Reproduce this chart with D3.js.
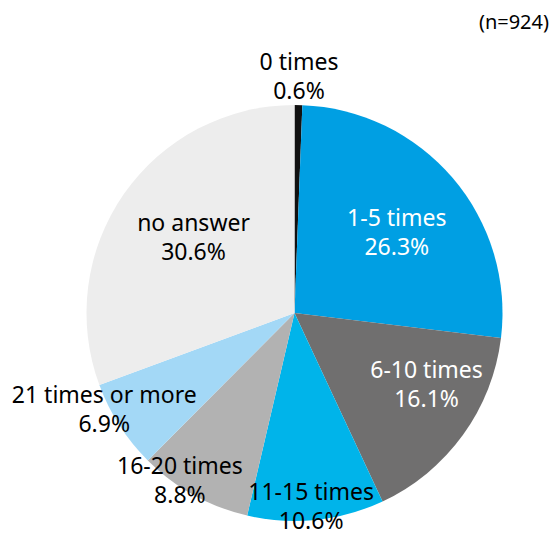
<!DOCTYPE html>
<html>
<head>
<meta charset="utf-8">
<script src="https://cdn.jsdelivr.net/npm/d3@7"></script>
<style>
  html, body { margin: 0; padding: 0; background: #fff; }
  svg { display: block; font-family: "Noto Sans", "Open Sans", sans-serif; }
</style>
</head>
<body>
<svg id="chart" width="556" height="535"></svg>
<script>
// Survey answers, share of respondents (%)
const categories = ["0 times", "1-5 times", "6-10 times", "11-15 times", "16-20 times", "21 times or more", "no answer"];
const shares = [0.6, 26.3, 16.1, 10.6, 8.8, 6.9, 30.6];
const sampleNote = "(n=924)";

// Slice fills and label styling
const fills = ["#111111", "#009fe3", "#706f6f", "#00b4ea", "#b2b2b2", "#a3d8f6", "#ededed"];
const textFills = ["#000", "#fff", "#fff", "#000", "#000", "#000", "#000"];
// Label placement: radius as a fraction of the pie radius, plus an angular nudge in degrees
const labelRadius = [1.144, 0.63, 0.72, 0.93, 0.97, 1.024, 0.61];
const labelNudge = [0, 1.8, -7.8, 1, 5.6, 6, 2.4];

const width = 556, height = 535;
const cx = 294.5, cy = 313, radius = 208;

const svg = d3.select("#chart");
const g = svg.append("g").attr("transform", `translate(${cx},${cy})`);

const rows = categories.map((c, i) => ({ category: c, value: shares[i], i }));

const pie = d3.pie().value(d => d.value).sort(null);
const arc = d3.arc().innerRadius(0).outerRadius(radius);
const arcs = pie(rows);

g.selectAll("path.slice")
  .data(arcs)
  .join("path")
  .attr("class", "slice")
  .attr("d", arc)
  .attr("fill", d => fills[d.data.i]);

const fmt = v => v.toFixed(1) + "%";

const labels = g.selectAll("g.label")
  .data(arcs)
  .join("g")
  .attr("class", "label")
  .attr("transform", d => {
    const a = (d.startAngle + d.endAngle) / 2 + labelNudge[d.data.i] * Math.PI / 180;
    const r = radius * labelRadius[d.data.i];
    return `translate(${Math.sin(a) * r},${-Math.cos(a) * r})`;
  });

labels.append("text")
  .attr("text-anchor", "middle")
  .attr("dominant-baseline", "central")
  .attr("font-size", 23)
  .attr("fill", d => textFills[d.data.i])
  .selectAll("tspan")
  .data(d => [d.data.category, fmt(d.data.value)])
  .join("tspan")
  .attr("x", 0)
  .attr("y", (t, k) => (k === 0 ? -14.5 : 14.5))
  .text(t => t);

svg.append("text")
  .attr("x", 549)
  .attr("y", 29)
  .attr("text-anchor", "end")
  .attr("font-size", 20)
  .attr("fill", "#000")
  .text(sampleNote);
</script>
</body>
</html>
